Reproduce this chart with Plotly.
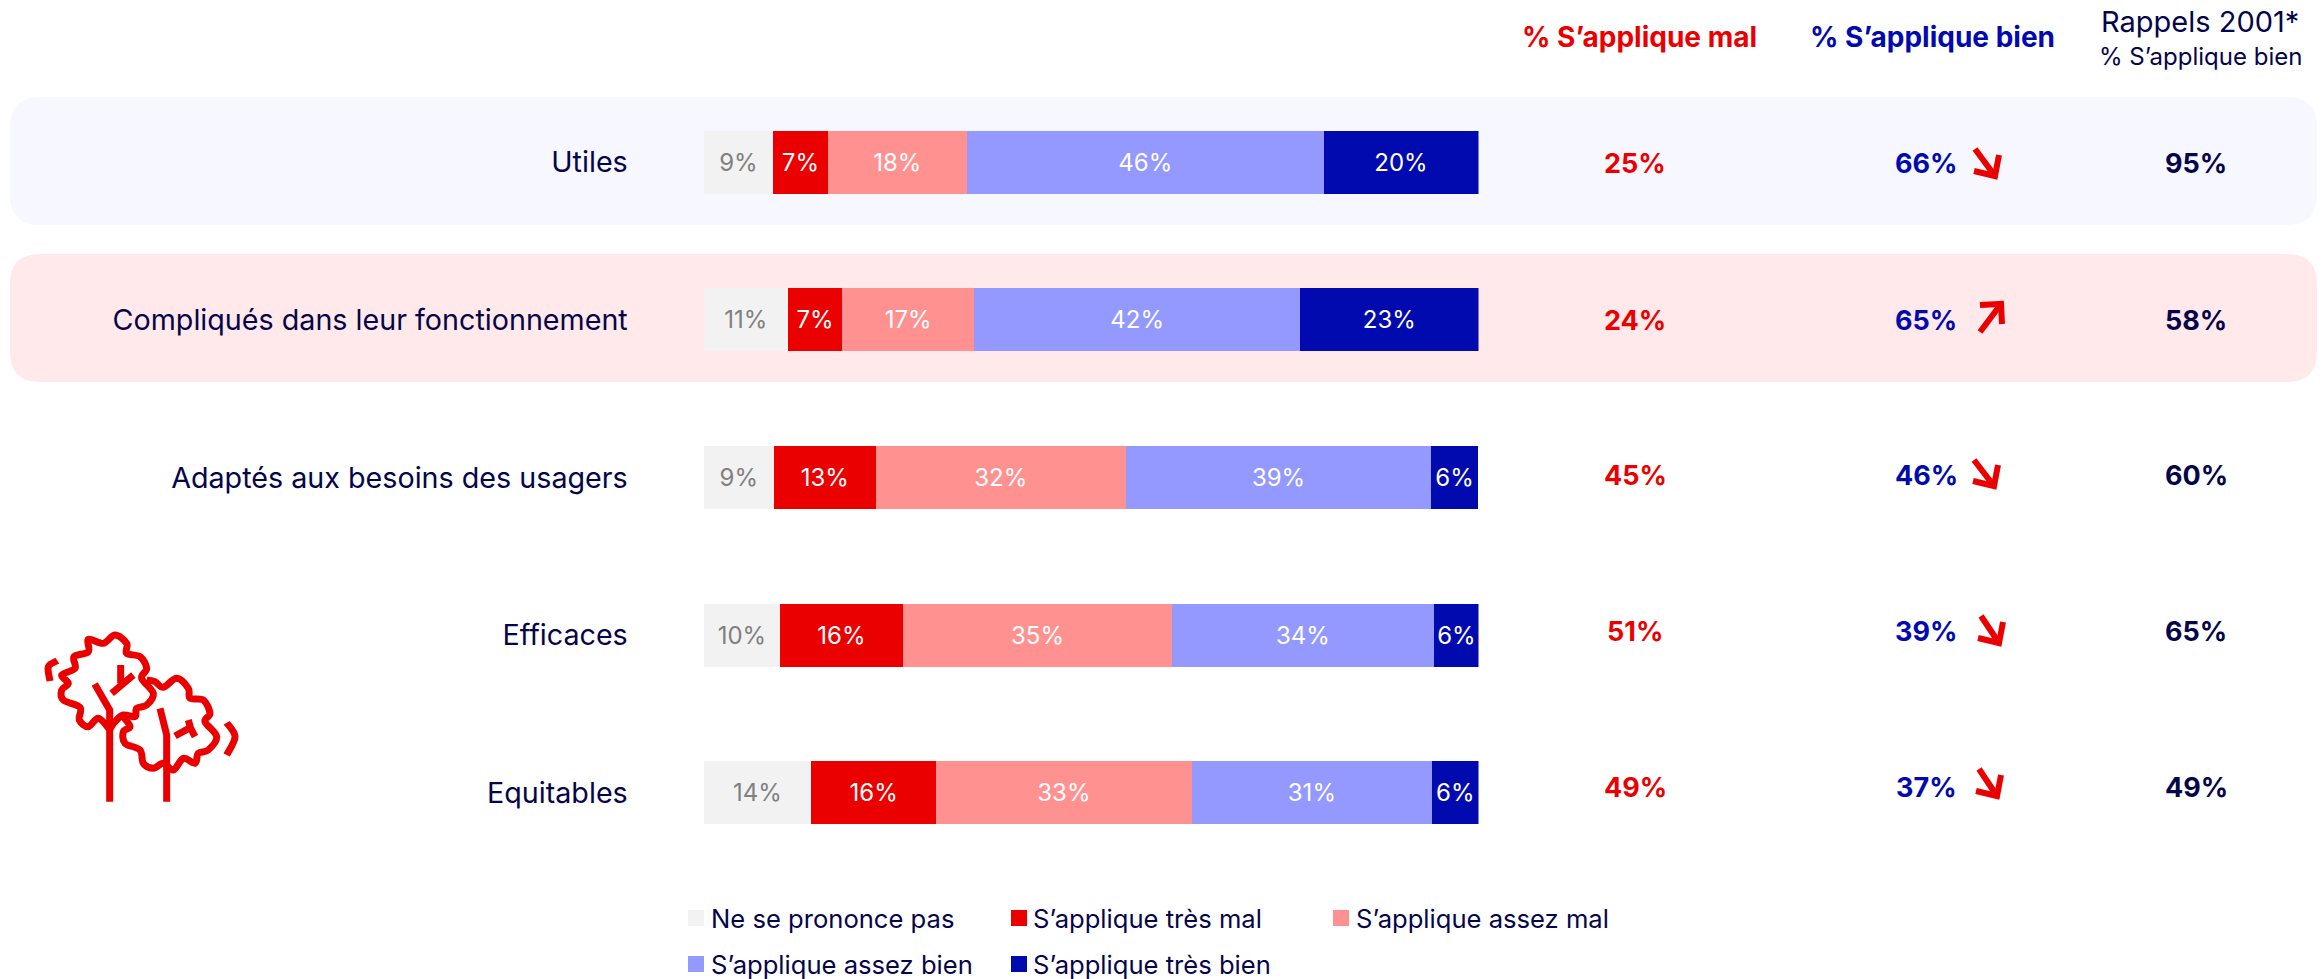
import plotly.graph_objects as go

W, H = 2323, 979
FONT = "Inter"
NAVY = "#05054B"
RED = "#EB0000"
BLUE = "#000AAF"

categories = ["Utiles", "Compliqués dans leur fonctionnement", "Adaptés aux besoins des usagers", "Efficaces", "Equitables"]
series_names = ["Ne se prononce pas", "S’applique très mal", "S’applique assez mal", "S’applique assez bien", "S’applique très bien"]
colors = ["#F2F2F2", "#EB0000", "#FF9191", "#9399FF", "#000AAF"]
label_colors = ["#808080", "#FFFFFF", "#FFFFFF", "#FFFFFF", "#FFFFFF"]

nsp = [9, 10.9, 9.1, 9.9, 13.9]
tres_mal = [7, 7, 13.1, 15.8, 16.1]
assez_mal = [18, 17, 32.3, 34.8, 33]
assez_bien = [46, 42.1, 39.4, 33.7, 31]
tres_bien = [20, 23, 6, 5.9, 6]
series_values = [nsp, tres_mal, assez_mal, assez_bien, tres_bien]

nsp_labels = ["9%", "11%", "9%", "10%", "14%"]
tres_mal_labels = ["7%", "7%", "13%", "16%", "16%"]
assez_mal_labels = ["18%", "17%", "32%", "35%", "33%"]
assez_bien_labels = ["46%", "42%", "39%", "34%", "31%"]
tres_bien_labels = ["20%", "23%", "6%", "6%", "6%"]
series_labels = [nsp_labels, tres_mal_labels, assez_mal_labels, assez_bien_labels, tres_bien_labels]

total_mal = ["25%", "24%", "45%", "51%", "49%"]
total_bien = ["66%", "65%", "46%", "39%", "37%"]
rappels_2001 = ["95%", "58%", "60%", "65%", "49%"]
trend = ["down", "up", "down", "down", "down"]


def px(x):
    return x / W


def py(y):
    return 1 - y / H


BAR_L, BAR_R = 703.5, 1478.5
ROW_TOP, ROW_BOTTOM = 83.5, 871.5

fig = go.Figure()
for name, vals, col, labs, lc in zip(series_names, series_values, colors, series_labels, label_colors):
    fig.add_trace(go.Bar(
        y=categories, x=vals, name=name, orientation="h",
        marker=dict(color=col, line=dict(width=0)),
        text=labs, textposition="inside", insidetextanchor="middle", textangle=0,
        constraintext="none",
        textfont=dict(family=FONT, size=24, color=lc),
        hoverinfo="skip", showlegend=False,
    ))


def rrect(x0, y0, x1, y1, r, fill):
    X0, X1 = px(x0), px(x1)
    Y0, Y1 = py(y0), py(y1)
    rx, ry = r / W, r / H
    path = (f"M {X0+rx} {Y0} L {X1-rx} {Y0} Q {X1} {Y0} {X1} {Y0-ry} L {X1} {Y1+ry} Q {X1} {Y1} {X1-rx} {Y1} "
            f"L {X0+rx} {Y1} Q {X0} {Y1} {X0} {Y1+ry} L {X0} {Y0-ry} Q {X0} {Y0} {X0+rx} {Y0} Z")
    return dict(type="path", path=path, xref="paper", yref="paper", fillcolor=fill,
                line=dict(width=0), layer="below")


def poly(points, width, color, closed=False):
    d = "M " + " L ".join(f"{px(x)} {py(y)}" for x, y in points)
    return dict(type="path", path=d + (" Z" if closed else ""), xref="paper", yref="paper",
                line=dict(color=color, width=width), layer="above")


def smooth(points, width, color):
    pts = [points[0]] + points + [points[-1]]
    d = f"M {px(points[0][0])} {py(points[0][1])}"
    for i in range(1, len(pts) - 2):
        p0, p1, p2, p3 = pts[i - 1], pts[i], pts[i + 1], pts[i + 2]
        c1 = (p1[0] + (p2[0] - p0[0]) / 6, p1[1] + (p2[1] - p0[1]) / 6)
        c2 = (p2[0] - (p3[0] - p1[0]) / 6, p2[1] - (p3[1] - p1[1]) / 6)
        d += f" C {px(c1[0])} {py(c1[1])} {px(c2[0])} {py(c2[1])} {px(p2[0])} {py(p2[1])}"
    return dict(type="path", path=d, xref="paper", yref="paper",
                line=dict(color=color, width=width), layer="above")


shapes = [rrect(10, 97, 2317, 225, 30, "#F7F7FF"), rrect(10, 254, 2317, 382, 30, "#FFE9EA")]

# trend arrows (icon): tail and tip in page pixels
arrow_pos = [((1975, 149), (1995, 176)), ((1980, 332), (2001, 304)), ((1974, 460), (1994, 486)),
             ((1981, 616), (1999, 643)), ((1979, 769), (1997, 796))]
for (tail, tip), tr in zip(arrow_pos, trend):
    shapes.append(poly([tail, tip], 6, RED))
    if tr == "down":
        shapes.append(poly([(tip[0] - 21, tip[1] - 5), tip, (tip[0] + 4, tip[1] - 21)], 6, RED))
    else:
        shapes.append(poly([(tip[0] - 21, tip[1] + 1), tip, (tip[0] + 1, tip[1] + 20)], 6, RED))

# tree icon


def t(points):
    return [(x / 3, 600 + y / 3) for x, y in points]


ICON = 7
crown1 = [(329, 388), (295, 355), (265, 380), (238, 360), (240, 322), (190, 300), (185, 270), (205, 250),
          (185, 225), (225, 205), (222, 170), (265, 155), (265, 118), (310, 130), (345, 105), (380, 130),
          (380, 160), (420, 170), (440, 205), (425, 235), (460, 280), (440, 315), (410, 325), (405, 350),
          (370, 345), (345, 365), (329, 388)]
crown2 = [(440, 240), (465, 245), (490, 262), (530, 235), (565, 265), (570, 295), (610, 300), (630, 340),
          (615, 365), (650, 410), (625, 450), (595, 460), (585, 490), (550, 475), (520, 510), (490, 490),
          (460, 505), (430, 490), (420, 450), (375, 430), (370, 395), (390, 380), (370, 350)]
shapes += [
    smooth(t(crown1), ICON, RED), smooth(t(crown2), ICON, RED),
    poly(t([(329, 605), (329, 330), (284, 252)]), ICON, RED),
    poly(t([(335, 280), (400, 225)]), ICON, RED), poly(t([(362, 195), (362, 250)]), ICON, RED),
    poly(t([(500, 605), (500, 405), (480, 325)]), ICON, RED),
    poly(t([(525, 408), (572, 382)]), ICON, RED), poly(t([(565, 360), (572, 385), (585, 410)]), ICON, RED),
    smooth(t([(172, 182), (145, 200), (150, 243)]), ICON, RED),
    smooth(t([(680, 368), (705, 410), (680, 465)]), ICON, RED),
]

annotations = []


def note(x, y, text, size, color, bold=False, xanchor="center"):
    annotations.append(dict(x=px(x), y=py(y), xref="paper", yref="paper", text=f"<b>{text}</b>" if bold else text,
                            showarrow=False, xanchor=xanchor, yanchor="middle",
                            font=dict(family=FONT, size=size, color=color)))


note(1639, 37, "% S’applique mal", 28, RED, True)
note(1932, 37, "% S’applique bien", 28, BLUE, True)
note(2200, 21, "Rappels 2001*", 29, NAVY)
note(2200, 57, "% S’applique bien", 24, NAVY)

value_rows = [163, 320, 475.5, 631, 787]
for y, a, b, c in zip(value_rows, total_mal, total_bien, rappels_2001):
    note(1635, y, a, 27, RED, True)
    note(1926, y, b, 27, BLUE, True)
    note(2196, y, c, 27, NAVY, True)

# legend: swatch left edge, text left edge, row centre
legend_pos = [(688, 709, 918), (1011, 1031, 918), (1333, 1354, 918), (688, 709, 964), (1011, 1031, 964)]
for (sx, tx, y), name, col in zip(legend_pos, series_names, colors):
    shapes.append(dict(type="rect", xref="paper", yref="paper", x0=px(sx), x1=px(sx + 16), y0=py(y - 8), y1=py(y + 8),
                       fillcolor=col, line=dict(width=0)))
    note(tx, y, name, 25.6, NAVY, xanchor="left")

fig.update_layout(
    width=W, height=H, autosize=False,
    margin=dict(l=0, r=0, t=0, b=0), paper_bgcolor="white", plot_bgcolor="rgba(0,0,0,0)",
    barmode="stack", bargap=0.6, showlegend=False,
    shapes=shapes, annotations=annotations,
    xaxis=dict(domain=[px(BAR_L), px(BAR_R)], range=[0, 100], visible=False, fixedrange=True),
    yaxis=dict(domain=[py(ROW_BOTTOM), py(ROW_TOP)], autorange="reversed", showgrid=False, zeroline=False,
               showline=False, ticks="outside", ticklen=69, tickcolor="rgba(0,0,0,0)", tickwidth=1,
               tickfont=dict(family=FONT, size=28.7, color=NAVY), fixedrange=True),
)
fig.write_html("out.html", config={"displayModeBar": False, "responsive": False},
               post_script="document.body.style.margin='0';document.documentElement.style.overflow='hidden';")
